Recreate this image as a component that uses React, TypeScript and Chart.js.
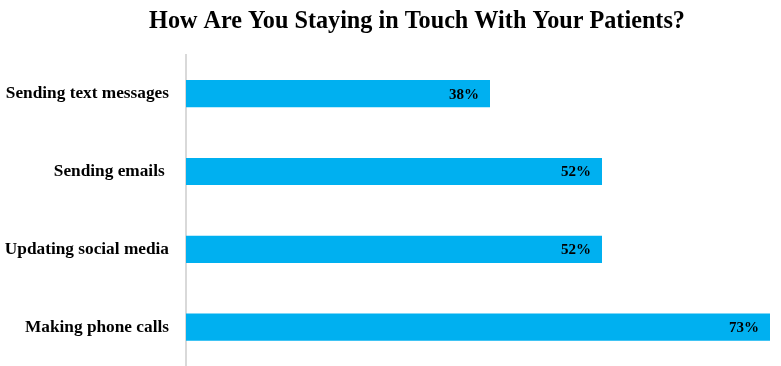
import React, { useEffect, useRef } from "react";
import { Chart, registerables } from "chart.js";

Chart.register(...registerables);

const categories = ["Sending text messages", "Sending emails ", "Updating social media", "Making phone calls"];
const values = [38, 52, 52, 73];
const titleText = "How Are You Staying in Touch With Your Patients?";
const barColor = "#00B0F0";
const serif = "'Liberation Serif', 'Times New Roman', serif";

const valueLabels = {
  id: "valueLabels",
  afterDatasetsDraw(chart: any) {
    const ctx = chart.ctx;
    const meta = chart.getDatasetMeta(0);
    ctx.save();
    ctx.font = "bold 15px " + serif;
    ctx.fillStyle = "#000";
    ctx.textAlign = "right";
    ctx.textBaseline = "middle";
    meta.data.forEach((bar: any, i: number) => {
      ctx.fillText(values[i] + "%", bar.x - 11, bar.y + 1);
    });
    ctx.restore();
  },
};

const shiftedTitle = {
  id: "shiftedTitle",
  afterDraw(chart: any) {
    const tb = chart.titleBlock;
    if (!tb) return;
    const ctx = chart.ctx;
    ctx.save();
    ctx.font = "bold 24.2px " + serif;
    ctx.fillStyle = "#000";
    ctx.textAlign = "center";
    ctx.textBaseline = "alphabetic";
    ctx.fillText(titleText, (tb.left + tb.right) / 2 + 32, 28);
    ctx.restore();
  },
};

export default function App() {
  const ref = useRef<HTMLCanvasElement>(null);
  useEffect(() => {
    const chart = new Chart(ref.current!, {
      type: "bar",
      data: {
        labels: categories,
        datasets: [
          {
            data: values,
            backgroundColor: barColor,
            borderWidth: 0,
            barPercentage: 0.7,
            categoryPercentage: 0.5,
          },
        ],
      },
      options: {
        indexAxis: "y",
        animation: false,
        responsive: false,
        maintainAspectRatio: false,
        layout: { padding: { left: 0, right: 11, top: 0, bottom: 0 } },
        plugins: {
          legend: { display: false },
          tooltip: { enabled: false },
          title: {
            display: true,
            text: titleText,
            color: "rgba(0,0,0,0)",
            font: { family: serif, size: 24, weight: "bold" },
            padding: { top: 6, bottom: 20 },
          },
        },
        scales: {
          x: {
            display: false,
            min: 0,
            max: 73,
          },
          y: {
            afterFit: (scale: any) => {
              scale.width = 186;
              scale.paddingTop = 0;
              scale.paddingBottom = 0;
            },
            grid: { display: false, drawTicks: false },
            border: { display: true, color: "#d9d9d9", width: 2 },
            ticks: {
              color: "#000",
              padding: 17,
              font: { family: serif, size: 17.3, weight: "bold" },
            },
          },
        },
      },
      plugins: [valueLabels, shiftedTitle],
    });
    return () => chart.destroy();
  }, []);
  return (
    <canvas
      ref={ref}
      width={781}
      height={366}
      style={{ position: "fixed", left: 0, top: 0, width: 781, height: 366 }}
    />
  );
}
